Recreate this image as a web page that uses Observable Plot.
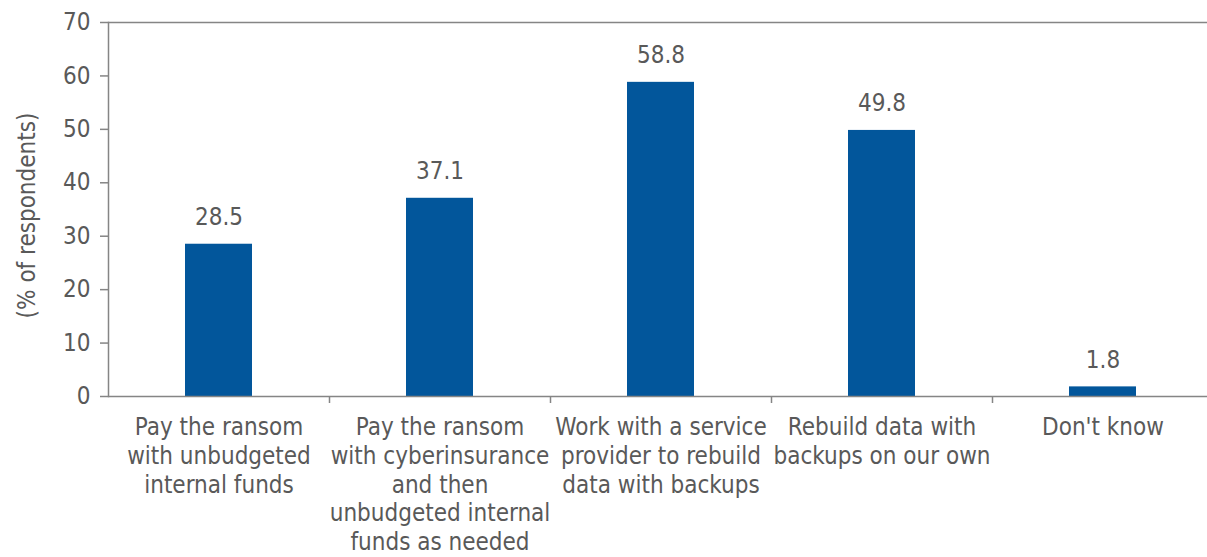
<!DOCTYPE html>
<html>
<head>
<meta charset="utf-8">
<script src="https://cdn.jsdelivr.net/npm/d3@7"></script>
<script src="https://cdn.jsdelivr.net/npm/@observablehq/plot@0.6"></script>
<style>
  html, body { margin: 0; padding: 0; background: #fff; }
  #chart svg { display: block; }
</style>
</head>
<body>
<div id="chart"></div>
<script>
const categories = [
  "Pay the ransom\nwith unbudgeted\ninternal funds",
  "Pay the ransom\nwith cyberinsurance\nand then\nunbudgeted internal\nfunds as needed",
  "Work with a service\nprovider to rebuild\ndata with backups",
  "Rebuild data with\nbackups on our own",
  "Don't know"
];
const values = [28.5, 37.1, 58.8, 49.8, 1.8];
const yTicks = [0, 10, 20, 30, 40, 50, 60, 70];
const yLabel = "(% of respondents)";

const data = categories.map((c, i) => ({category: c, value: values[i]}));

const W = 1207, H = 557;
const mL = 108, mR = -6, mT = 22, mB = 161;
const bw = (W - mL - mR) / categories.length;
const font = "'DejaVu Sans Condensed', 'DejaVu Sans', sans-serif";
const textColor = "#595959";
const lineColor = "#858585";

const chart = Plot.plot({
  width: W,
  height: H,
  marginLeft: mL,
  marginRight: mR,
  marginTop: mT,
  marginBottom: mB,
  style: {fontFamily: font, color: textColor, background: "#fff", overflow: "visible"},
  x: {domain: categories, padding: 0, label: null, axis: null},
  y: {domain: [0, 70], label: null, axis: null},
  marks: [
    Plot.barY(data, {x: "category", y: "value", fill: "#02569B", insetLeft: 77, insetRight: 77}),
    Plot.ruleY([70], {stroke: lineColor, strokeWidth: 1.5}),
    Plot.ruleY([0], {stroke: lineColor, strokeWidth: 1.5}),
    Plot.frame({anchor: "left", stroke: lineColor, strokeWidth: 1.5}),
    Plot.ruleX(categories.slice(1), {x: d => d, dx: -bw / 2, stroke: lineColor, strokeWidth: 1.5,
      insetTop: H - mT - mB, insetBottom: -7}),
    Plot.axisY({ticks: yTicks, tickSize: 8, tickPadding: 10, stroke: lineColor, fontSize: 24,
      fill: textColor, tickFormat: d => d, label: null, strokeWidth: 1.5}),
    Plot.axisX({tickSize: 0, tickPadding: 18, fontSize: 24, lineHeight: 1.2, fill: textColor, label: null}),
    Plot.text(data, {x: "category", y: "value", text: d => d.value.toFixed(1), dy: -27,
      fontSize: 24, fill: textColor}),
    Plot.text([yLabel], {frameAnchor: "left", textAnchor: "middle", text: d => d, rotate: -90, dx: -81, dy: 6,
      fontSize: 24, fill: textColor})
  ]
});
document.getElementById("chart").appendChild(chart);
</script>
</body>
</html>
